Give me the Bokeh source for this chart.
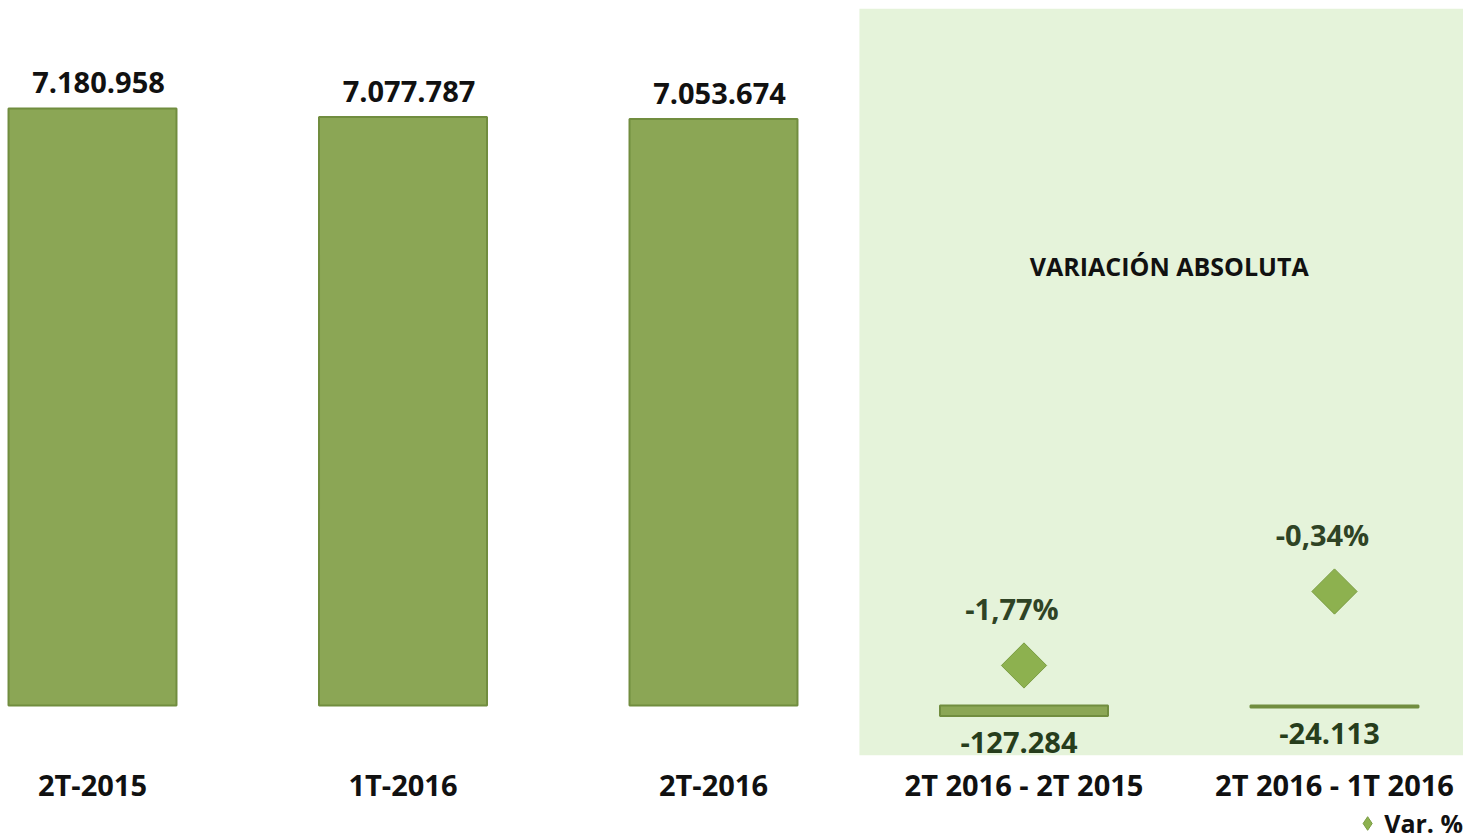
from bokeh.plotting import figure
from bokeh.layouts import column
from bokeh.models import (ColumnDataSource, Range1d, LabelSet, Label, BoxAnnotation,
                          Legend, LegendItem, FixedTicker)
from bokeh.core.properties import value
from bokeh.embed import file_html
from bokeh.resources import INLINE
import numpy as np

# ---------------- data ----------------
categories = ["2T-2015", "1T-2016", "2T-2016", "2T 2016 - 2T 2015", "2T 2016 - 1T 2016"]
values = [7180958, 7077787, 7053674, -127284, -24113]
pct_index = [3, 4]
pct_values = [-1.77, -0.34]
section_title = "VARIACIÓN ABSOLUTA"
legend_label = "Var. %"


def fmt_int(v):
    return f"{v:,}".replace(",", ".")


def fmt_pct(v):
    return f"{v:.2f}".replace(".", ",") + "%"


FONT = "Open Sans"
FS = "29px"
BAR_FILL = "#8ba655"
BAR_LINE = "#718d3f"
DIA_FILL = "#8db14f"

x = list(range(len(categories)))
X_RANGE = (-0.2963, 4.4155)

W = 1463
p = figure(width=W, height=806, output_backend="svg", toolbar_location=None,
           x_range=Range1d(*X_RANGE), y_range=Range1d(-601400, 8383800),
           y_axis_location=None, min_border_left=0, min_border_right=0,
           min_border_top=8, min_border_bottom=51)
p.extra_y_ranges = {"pct": Range1d(-3.51, 10.93)}
p.outline_line_color = None
p.grid.visible = False
p.background_fill_color = "white"
p.border_fill_color = "white"

# shaded "variation" section
p.add_layout(BoxAnnotation(left=2.47, fill_color="#e5f3da", fill_alpha=1.0,
                           line_color=None, level="underlay"))

src = ColumnDataSource(dict(x=x, v=values))
p.vbar(x="x", top="v", bottom=0, width=0.541, source=src,
       fill_color=BAR_FILL, line_color=BAR_LINE, line_width=2)

pos = [i for i, v in enumerate(values) if v >= 0]
neg = [i for i, v in enumerate(values) if v < 0]
src_pos = ColumnDataSource(dict(x=[x[i] for i in pos], v=[values[i] for i in pos],
                                t=[fmt_int(values[i]) for i in pos]))
src_neg = ColumnDataSource(dict(x=[x[i] for i in neg], v=[values[i] for i in neg],
                                t=[fmt_int(values[i]) for i in neg]))
p.add_layout(LabelSet(x="x", y="v", text="t", source=src_pos, x_offset=6, y_offset=26,
                      text_align="center", text_baseline="middle",
                      text_font=value(FONT), text_font_style="bold", text_font_size=FS,
                      text_color="#111111"))
p.add_layout(LabelSet(x="x", y="v", text="t", source=src_neg, x_offset=-5, y_offset=-26,
                      text_align="center", text_baseline="middle",
                      text_font=value(FONT), text_font_style="bold", text_font_size=FS,
                      text_color="#263d1c"))

# percentage variation (secondary scale)
src_pct = ColumnDataSource(dict(x=[x[i] for i in pct_index], v=pct_values,
                                t=[fmt_pct(v) for v in pct_values]))
dia = p.scatter(x="x", y="v", source=src_pct, y_range_name="pct", marker="square",
                angle=np.pi / 4, size=32, fill_color=DIA_FILL, line_color="#7a9c42",
                line_width=1)
p.add_layout(LabelSet(x="x", y="v", text="t", source=src_pct, y_range_name="pct",
                      x_offset=-12, y_offset=57, text_align="center", text_baseline="middle",
                      text_font=value(FONT), text_font_style="bold", text_font_size=FS,
                      text_color="#2f4325"))

p.add_layout(Label(x=(x[3] + x[4]) / 2, y=5290000, text=section_title, x_offset=-10,
                   text_align="center", text_baseline="middle", text_font=FONT,
                   text_font_style="bold", text_font_size="25px", text_color="#111111"))

# x axis
ax = p.xaxis[0]
ax.ticker = FixedTicker(ticks=x)
ax.major_label_overrides = {i: c for i, c in zip(x, categories)}
ax.axis_line_color = None
ax.major_tick_line_color = None
ax.minor_tick_line_color = None
ax.major_tick_out = 0
ax.major_tick_in = 0
ax.major_label_standoff = 9
ax.major_label_text_font = FONT
ax.major_label_text_font_style = "bold"
ax.major_label_text_font_size = FS
ax.major_label_text_color = "#111111"

# legend strip below the chart (same data, points fall outside this strip's range)
pl = figure(width=W, height=34, output_backend="svg", toolbar_location=None,
            x_range=Range1d(*X_RANGE), y_range=Range1d(100, 101),
            x_axis_location=None, y_axis_location=None,
            min_border_left=0, min_border_right=0, min_border_top=0, min_border_bottom=0)
pl.outline_line_color = None
pl.grid.visible = False
leg_r = pl.scatter(x="x", y="v", source=src_pct, marker="diamond",
                   size=14, fill_color=DIA_FILL, line_color="#7a9c42", line_width=1)
legend = Legend(items=[LegendItem(label=legend_label, renderers=[leg_r])],
                location="top_right", orientation="horizontal",
                label_text_font=FONT, label_text_font_style="bold",
                label_text_font_size="25px", label_text_color="#111111",
                border_line_color=None, background_fill_alpha=0,
                padding=0, margin=0, spacing=0, glyph_width=34, glyph_height=34,
                label_height=30, label_standoff=0)
pl.add_layout(legend)

layout = column(p, pl, spacing=0)
open("out.html", "w").write(file_html(layout, INLINE))
